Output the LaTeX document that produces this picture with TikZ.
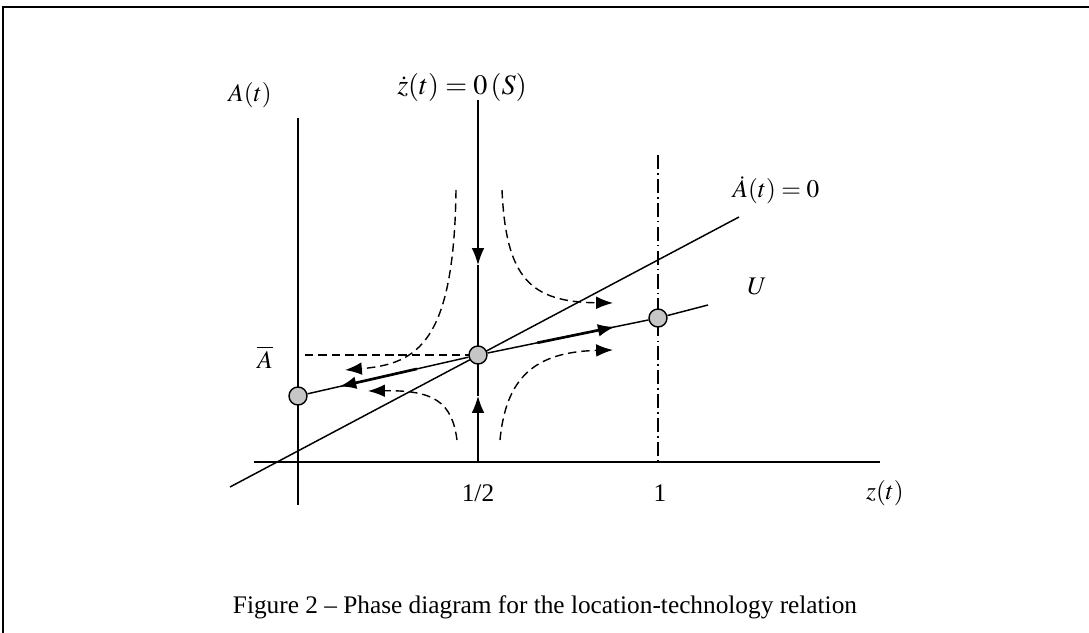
\documentclass[tikz,border=0pt]{standalone}
\usepackage{mathptmx}
\usepackage{fontspec}
\setmainfont{Liberation Serif}
\usetikzlibrary{arrows.meta,positioning,calc}

\tikzset{
  eqpt/.style={circle, draw, fill=gray!45, inner sep=0pt, minimum size=0.45cm, line width=1pt},
  axisline/.style={line width=1.05pt},
  flow/.style={-{Latex[length=12pt,width=9pt]}, line width=1.9pt},
  traj/.style={dash pattern=on 6pt off 3.5pt, line width=1pt, -{Latex[length=12pt,width=9pt]}},
  midtip/.style={-{Latex[length=12pt,width=9pt]}, line width=1.05pt},
}

\begin{document}
\begin{tikzpicture}[font=\fontsize{18}{21}\selectfont]

\useasboundingbox (-7.45,-4.275) rectangle (19.775,11.55);
% frame round the figure
\draw[line width=1.2pt] (-7.38,-4.4) -- (-7.38,11.375) -- (19.9,11.375);

% Axes
\coordinate (Otop)   at (0,8.6);
\coordinate (Obot)   at (0,-1.075);
\coordinate (Hleft)  at (-1.1,0);
\coordinate (Hright) at (14.55,0);
\draw[axisline] (Otop) -- (Obot);
\draw[axisline] (Hleft) -- (Hright);

% Equilibria
\coordinate (Epos) at (4.5,2.675);
\coordinate (Stop) at (4.5,9.05);
\coordinate (Sbot) at (4.5,0);
\coordinate (Dtop) at (9.0,7.675);
\coordinate (Dbot) at (9.0,0);

% Adot = 0 line (drawn first)
\coordinate (Astart) at (-1.7,-0.625);
\coordinate (Aend)   at (11.025,6.125);
\draw[axisline] (Astart) -- (Aend);

% z = 1 (dash-dot)
\draw[line width=1pt, dash pattern=on 10pt off 3pt on 1pt off 3pt] (Dtop) -- (Dbot);

% Abar level
\coordinate (Abarl) at (0.175,2.675);
\draw[line width=1pt, dash pattern=on 6pt off 3.5pt] (Abarl) -- (Epos);

% Stable arm S with arrows
\draw[midtip] (Stop) -- (4.5,4.925);
\draw[axisline] (4.5,4.925) -- (Epos);
\draw[midtip] (Sbot) -- (4.5,1.65);
\draw[axisline] (4.5,1.65) -- (Epos);

% Trajectories
\draw[traj] (3.95,6.8) .. controls (3.9,3.0) and (3.0,2.45) .. (1.175,2.3);
\draw[traj] (3.975,0.55) .. controls (3.85,1.5) and (3.4,1.8) .. (1.75,1.775);
\draw[traj] (5.1,6.8) .. controls (5.2,4.6) and (5.8,4.0) .. (7.875,3.975);
\draw[traj] (5.05,0.55) .. controls (5.2,2.1) and (5.9,2.75) .. (7.875,2.8);

% Unstable arm U
\node[eqpt] (Lpt) at (0,1.65) {};
\node[eqpt] (Rpt) at (9.0,3.6) {};
\node[eqpt] (Ept) at (Epos) {};
\coordinate (Uend) at (10.25,3.925);
\draw[axisline] (Lpt) -- (Ept);
\draw[axisline] (Ept) -- (Rpt);
\draw[axisline] (Rpt) -- (Uend);
\draw[flow] ($(Lpt)!0.66!(Ept)$) -- ($(Lpt)!0.23!(Ept)$);
\draw[flow] ($(Ept)!0.33!(Rpt)$) -- ($(Ept)!0.76!(Rpt)$);

% Labels
\node (Alab)    at (-1.2,9.175) {$A(t)$};
\node (Abarlab) at (-0.825,2.625) {$\overline{A}$};
\node[font=\fontsize{20}{24}\selectfont] (Slab) at (4.1,9.375) {$\dot{z}(t)=0\,(S)$};
\node (Adlab)   at (11.95,6.8) {$\dot{A}(t)=0$};
\node (Ulab)    at (11.475,4.375) {$U$};
\node (half)    at (4.5,-0.775) {1/2};
\node (one)     at (9.05,-0.775) {1};
\node (zlab)    at (14.675,-0.775) {$z(t)$};
\node (caption) at (6.175,-3.625) {Figure 2 -- Phase diagram for the location-technology relation};

\end{tikzpicture}
\end{document}
